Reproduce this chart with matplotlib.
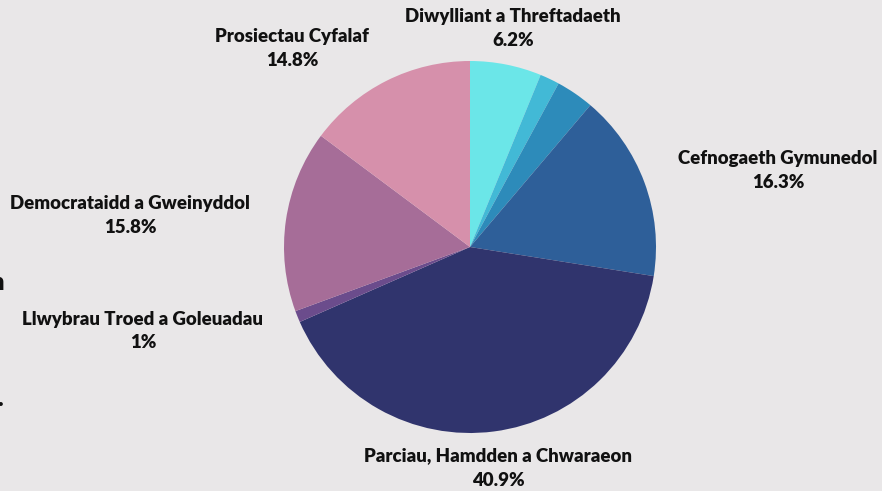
import matplotlib.pyplot as plt

plt.rcParams['font.family'] = ['Lato', 'DejaVu Sans']

# data
categories = ['Diwylliant a Threftadaeth', '', '', 'Cefnogaeth Gymunedol',
              'Parciau, Hamdden a Chwaraeon', 'Llwybrau Troed a Goleuadau',
              'Democrataidd a Gweinyddol', 'Prosiectau Cyfalaf']
values = [6.2, 1.7, 3.3, 16.3, 40.9, 1.0, 15.8, 14.8]
pct_labels = ['6.2%', '', '', '16.3%', '40.9%', '1%', '15.8%', '14.8%']
colors = ['#6be6e8', '#42b9d6', '#2d8bba', '#2e5f99', '#30346d',
          '#6b4c8c', '#a66d98', '#d690ab']

# label positions in pixel space (x, y from top)
label_pos = [(513, 16), None, None, (778, 158), (498, 456),
             (143, 319), (130, 203), (292, 36)]

bg = '#e9e7e8'
W, H = 882, 491
fig = plt.figure(figsize=(W / 100, H / 100), dpi=100, facecolor=bg)
ax = fig.add_axes([0, 0, 1, 1])
ax.set_facecolor(bg)
ax.set_xlim(0, W)
ax.set_ylim(0, H)
ax.set_aspect('equal')

cx, cy, r = 470, H - 247, 186
ax.pie(values, colors=colors, startangle=90, counterclock=False,
       center=(cx, cy), radius=r, frame=True,
       wedgeprops=dict(linewidth=0))
ax.set_xlim(0, W)
ax.set_ylim(0, H)
ax.axis('off')

for name, pct, pos in zip(categories, pct_labels, label_pos):
    if pos is None:
        continue
    x, y = pos
    ax.text(x, H - y, name, ha='center', va='center', fontsize=13.4,
            fontweight='heavy', color='#111111')
    ax.text(x, H - y - 24, pct, ha='center', va='center', fontsize=13.4,
            fontweight='heavy', color='#111111')

# cut-off text at the left edge
ax.text(-9, H - 283, 'n', ha='left', va='center', fontsize=17,
        fontweight='heavy', color='#111111')
ax.text(-3, H - 399, '.', ha='left', va='center', fontsize=17,
        fontweight='heavy', color='#111111')

fig.savefig('out.png', dpi=100, facecolor=bg)
